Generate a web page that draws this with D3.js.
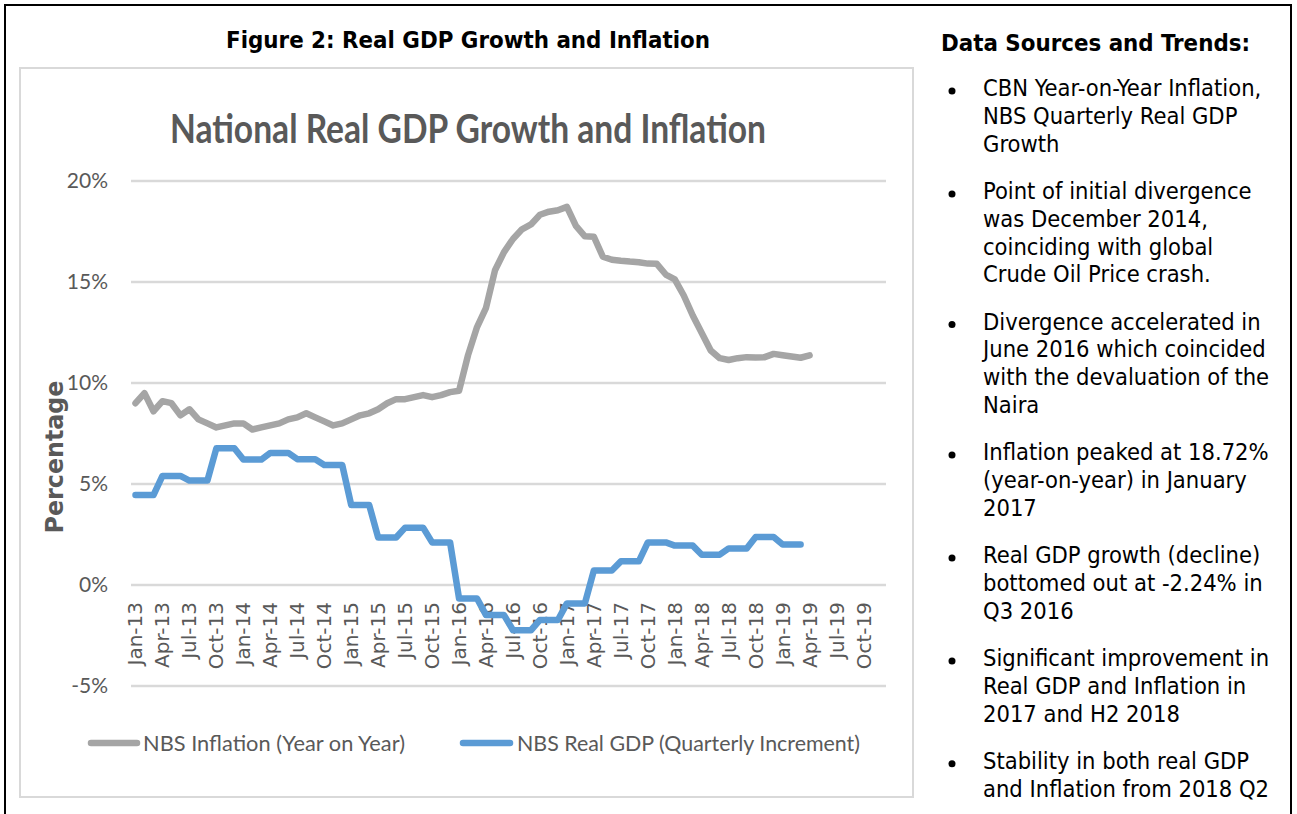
<!DOCTYPE html>
<html>
<head>
<meta charset="utf-8">
<script src="https://cdn.jsdelivr.net/npm/d3@7"></script>
<style>
  body { margin: 0; background: #fff; }
  svg { display: block; }
</style>
</head>
<body>
<svg id="chart" width="1297" height="814"></svg>
<script>
// month categories Jan-13 .. Dec-19
let years = ["13", "14", "15", "16", "17", "18", "19"];
let monthNames = ["Jan", "Feb", "Mar", "Apr", "May", "Jun", "Jul", "Aug", "Sep", "Oct", "Nov", "Dec"];
let months = [];
years.forEach(y => monthNames.forEach(m => months.push(m + "-" + y)));

let tickLabels = ["Jan-13", "Apr-13", "Jul-13", "Oct-13", "Jan-14", "Apr-14", "Jul-14", "Oct-14",
  "Jan-15", "Apr-15", "Jul-15", "Oct-15", "Jan-16", "Apr-16", "Jul-16", "Oct-16",
  "Jan-17", "Apr-17", "Jul-17", "Oct-17", "Jan-18", "Apr-18", "Jul-18", "Oct-18",
  "Jan-19", "Apr-19", "Jul-19", "Oct-19"];

let yTicks = [-5, 0, 5, 10, 15, 20];

// NBS inflation, year on year, Jan-13 .. Apr-19
let inflation = [
  9.0, 9.5, 8.6, 9.1, 9.0, 8.4, 8.7, 8.2, 8.0, 7.8, 7.9, 8.0,
  8.0, 7.7, 7.8, 7.9, 8.0, 8.2, 8.3, 8.5, 8.3, 8.1, 7.9, 8.0,
  8.2, 8.4, 8.5, 8.7, 9.0, 9.2, 9.2, 9.3, 9.4, 9.3, 9.4, 9.55,
  9.62, 11.38, 12.77, 13.72, 15.58, 16.48, 17.13, 17.61, 17.85, 18.33, 18.48, 18.55,
  18.72, 17.78, 17.26, 17.24, 16.25, 16.10, 16.05, 16.01, 15.98, 15.91, 15.90, 15.37,
  15.13, 14.33, 13.34, 12.48, 11.61, 11.23, 11.14, 11.23, 11.28, 11.26, 11.28, 11.44,
  11.37, 11.31, 11.25, 11.37
];

// NBS real GDP growth (quarterly value shown for each month), Jan-13 .. Mar-19
let gdp = [
  4.45, 4.45, 4.45, 5.40, 5.40, 5.40, 5.17, 5.17, 5.17, 6.77, 6.77, 6.77,
  6.21, 6.21, 6.21, 6.54, 6.54, 6.54, 6.23, 6.23, 6.23, 5.94, 5.94, 5.94,
  3.96, 3.96, 3.96, 2.35, 2.35, 2.35, 2.84, 2.84, 2.84, 2.11, 2.11, 2.11,
  -0.67, -0.67, -0.67, -1.49, -1.49, -1.49, -2.24, -2.24, -2.24, -1.73, -1.73, -1.73,
  -0.91, -0.91, -0.91, 0.72, 0.72, 0.72, 1.17, 1.17, 1.17, 2.11, 2.11, 2.11,
  1.95, 1.95, 1.95, 1.50, 1.50, 1.50, 1.81, 1.81, 1.81, 2.38, 2.38, 2.38,
  2.01, 2.01, 2.01
];

let seriesNames = ["NBS Inflation (Year on Year)", "NBS Real GDP (Quarterly Increment)"];
let seriesColors = ["#a5a5a5", "#5b9bd5"];

let notes = [
  ["CBN Year-on-Year Inflation,", "NBS Quarterly Real GDP", "Growth"],
  ["Point of initial divergence", "was December 2014,", "coinciding with global", "Crude Oil Price crash."],
  ["Divergence accelerated in", "June 2016 which coincided", "with the devaluation of the", "Naira"],
  ["Inflation peaked at 18.72%", "(year-on-year) in January", "2017"],
  ["Real GDP growth (decline)", "bottomed out at -2.24% in", "Q3 2016"],
  ["Significant improvement in", "Real GDP and Inflation in", "2017 and H2 2018"],
  ["Stability in both real GDP", "and Inflation from 2018 Q2"]
];

let svg = d3.select("#chart");
let grey = "#595959";
let calib = "Lato, 'Open Sans', sans-serif";
let tahoma = "'DejaVu Sans Condensed', 'DejaVu Sans', sans-serif";

function fit(t, w) {
  t.attr("textLength", w).attr("lengthAdjust", "spacingAndGlyphs");
  return t;
}

// frames
svg.append("rect").attr("x", 5).attr("y", 5).attr("width", 1286).attr("height", 830)
  .attr("fill", "none").attr("stroke", "#000").attr("stroke-width", 2);
svg.append("rect").attr("x", 20).attr("y", 68).attr("width", 893).attr("height", 729)
  .attr("fill", "#fff").attr("stroke", "#d9d9d9").attr("stroke-width", 2);

fit(svg.append("text").attr("x", 226).attr("y", 40).attr("dy", "0.35em")
  .style("font-family", tahoma).style("font-weight", "bold").style("font-size", "23px")
  .text("Figure 2: Real GDP Growth and Inflation"), 484);

fit(svg.append("text").attr("x", 170).attr("y", 143)
  .style("font-family", calib).style("font-weight", "bold").style("font-size", "40px")
  .attr("fill", grey)
  .text("National Real GDP Growth and Inflation"), 596);

let xscale = d3.scaleBand().domain(months).range([131, 886]);
let yscale = d3.scaleLinear().domain([-5, 20]).range([686, 181]);
let xc = d => xscale(d) + xscale.bandwidth() / 2;

svg.append("g").selectAll("line").data(yTicks).join("line")
  .attr("x1", 131).attr("x2", 886)
  .attr("y1", d => yscale(d)).attr("y2", d => yscale(d))
  .attr("stroke", "#d9d9d9").attr("stroke-width", 2.5);

svg.append("g").selectAll("text").data(yTicks).join("text")
  .attr("x", 108).attr("y", d => yscale(d)).attr("dy", "0.35em")
  .attr("text-anchor", "end").attr("fill", grey)
  .style("font-family", calib).style("font-size", "21px")
  .text(d => d + "%");

svg.append("g").selectAll("text").data(tickLabels).join("text")
  .attr("transform", d => "translate(" + xc(d) + ",602) rotate(-90)")
  .attr("dy", "0.35em").attr("text-anchor", "end").attr("fill", grey)
  .style("font-family", "'DejaVu Sans', sans-serif").style("font-size", "20px")
  .text(d => d);

fit(svg.append("text").attr("transform", "translate(55,457) rotate(-90)")
  .attr("dy", "0.35em").attr("text-anchor", "middle").attr("fill", grey)
  .style("font-family", "'DejaVu Sans', sans-serif").style("font-weight", "bold").style("font-size", "24px")
  .text("Percentage"), 153);

let line = d3.line()
  .x((d, i) => xc(months[i]))
  .y(d => yscale(d));

[inflation, gdp].forEach((s, k) => {
  svg.append("path")
    .datum(s)
    .attr("d", line)
    .attr("fill", "none")
    .attr("stroke", seriesColors[k])
    .attr("stroke-width", 6.5)
    .attr("stroke-linejoin", "round")
    .attr("stroke-linecap", "round");
});

// legend
let legendX = [[91, 137, 143, 262], [463, 510, 517, 343]];
seriesNames.forEach((n, k) => {
  let p = legendX[k];
  svg.append("line").attr("x1", p[0]).attr("x2", p[1]).attr("y1", 743).attr("y2", 743)
    .attr("stroke", seriesColors[k]).attr("stroke-width", 6.5).attr("stroke-linecap", "round");
  fit(svg.append("text").attr("x", p[2]).attr("y", 743).attr("dy", "0.35em")
    .attr("fill", grey).style("font-family", calib).style("font-size", "22px")
    .text(n), p[3]);
});

// side notes
fit(svg.append("text").attr("x", 941).attr("y", 43).attr("dy", "0.35em")
  .style("font-family", tahoma).style("font-weight", "bold").style("font-size", "23px")
  .text("Data Sources and Trends:"), 309);

let ly = 88;
notes.forEach(par => {
  svg.append("circle").attr("cx", 952).attr("cy", ly + 3).attr("r", 3.5).attr("fill", "#000");
  par.forEach(t => {
    svg.append("text").attr("x", 983).attr("y", ly).attr("dy", "0.35em")
      .style("font-family", tahoma).style("font-size", "23.5px")
      .text(t);
    ly += 27.7;
  });
  ly += 47.5 - 27.7;
});
</script>
</body>
</html>
